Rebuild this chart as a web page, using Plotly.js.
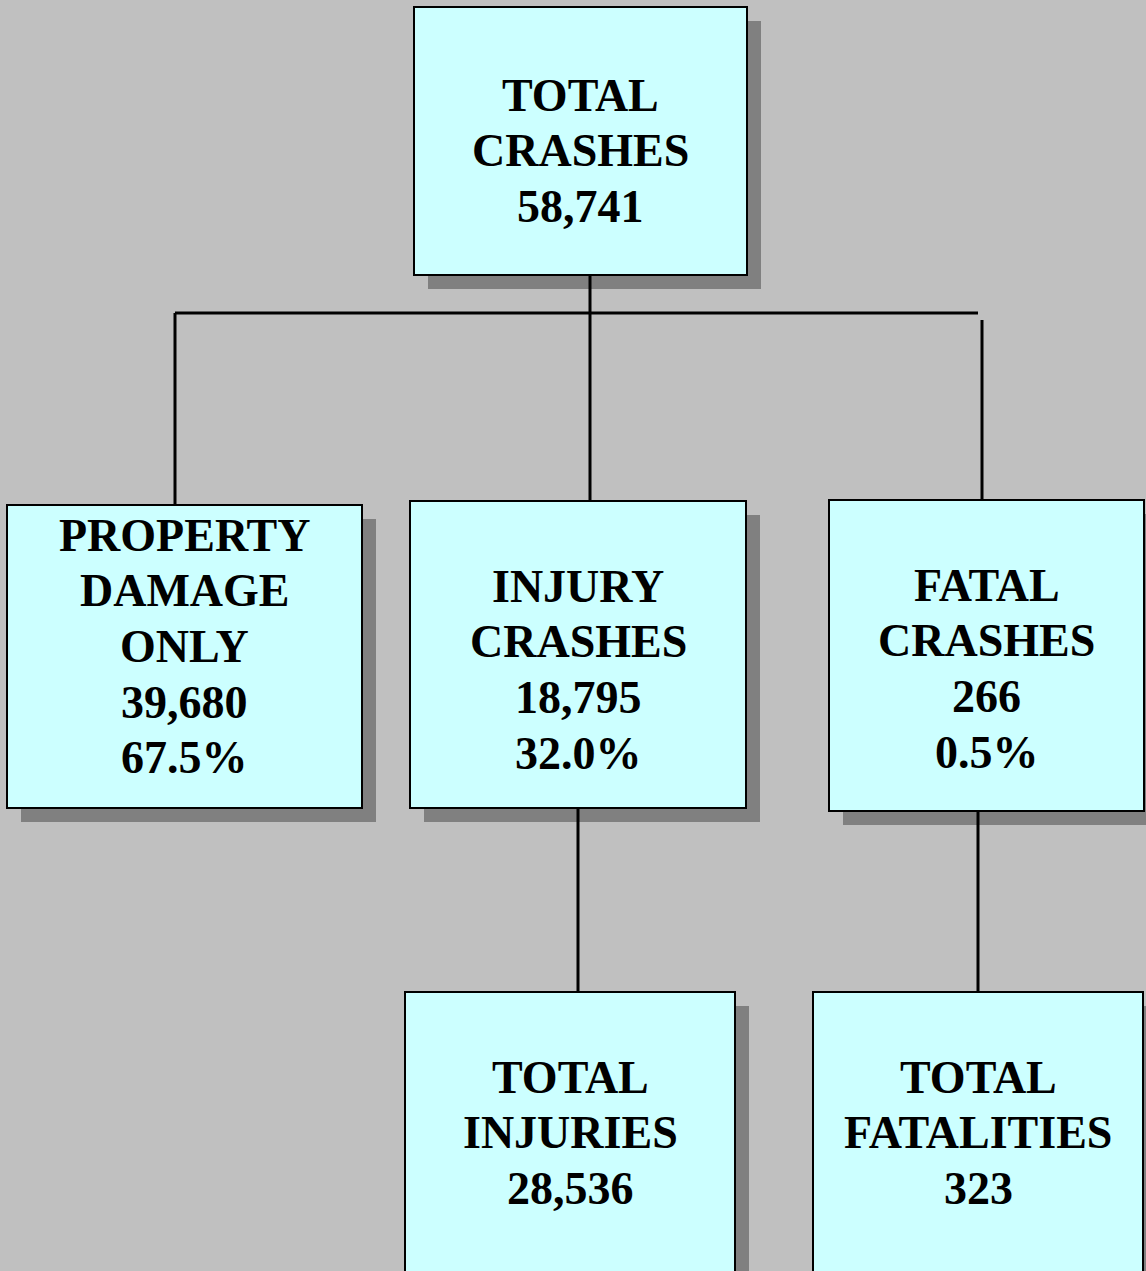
<!DOCTYPE html>
<html>
<head>
<meta charset="utf-8">
<script src="https://cdn.plot.ly/plotly-3.0.1.min.js"></script>
<style>html,body{margin:0;padding:0;background:#C0C0C0;}#chart{width:1146px;height:1271px;}</style>
</head>
<body>
<div id="chart"></div>
<script>
// ---- data ----
const titles = [
  ["TOTAL", "CRASHES"],
  ["PROPERTY", "DAMAGE", "ONLY"],
  ["INJURY", "CRASHES"],
  ["FATAL", "CRASHES"],
  ["TOTAL", "INJURIES"],
  ["TOTAL", "FATALITIES"]
];
const counts = [58741, 39680, 18795, 266, 28536, 323];
const shares = [null, 67.5, 32.0, 0.5, null, null];

// ---- layout geometry (pixels, y downward) ----
const boxes = [
  {x0: 414, x1: 747, y0: 7,   y1: 275,  first: 95},
  {x0: 7,   x1: 362, y0: 505, y1: 808,  first: 535},
  {x0: 410, x1: 746, y0: 501, y1: 808,  first: 586},
  {x0: 829, x1: 1144, y0: 500, y1: 811, first: 585},
  {x0: 405, x1: 735, y0: 992, y1: 1300, first: 1077},
  {x0: 813, x1: 1143, y0: 992, y1: 1300, first: 1077}
];
const connectors = [
  [590, 275, 590, 501],
  [175, 313, 978, 313],
  [175, 313, 175, 505],
  [982, 320, 982, 500],
  [578, 808, 578, 992],
  [978, 811, 978, 992]
];
const shadowOffset = 14;
const lineStep = 55.7;

const shapes = [];
boxes.forEach(b => shapes.push({type: 'rect', xref: 'x', yref: 'y',
  x0: b.x0 + shadowOffset, x1: b.x1 + shadowOffset, y0: b.y0 + shadowOffset, y1: b.y1 + shadowOffset,
  fillcolor: '#808080', line: {width: 0}}));
connectors.forEach(c => shapes.push({type: 'line', xref: 'x', yref: 'y',
  x0: c[0], y0: c[1], x1: c[2], y1: c[3], line: {color: '#000000', width: 3}}));
boxes.forEach(b => shapes.push({type: 'rect', xref: 'x', yref: 'y',
  x0: b.x0, x1: b.x1, y0: b.y0, y1: b.y1,
  fillcolor: '#CCFFFF', line: {color: '#000000', width: 2}}));

const annotations = [];
titles.forEach((t, i) => {
  const lines = t.slice();
  lines.push(counts[i].toLocaleString('en-US'));
  if (shares[i] !== null) lines.push(shares[i].toFixed(1) + '%');
  const b = boxes[i];
  const cx = (b.x0 + b.x1) / 2;
  lines.forEach((ln, k) => annotations.push({
    x: cx, y: b.first + k * lineStep, xref: 'x', yref: 'y',
    text: '<b>' + ln + '</b>', showarrow: false, xanchor: 'center', yanchor: 'middle',
    font: {family: 'Liberation Serif', size: 46, color: '#000000'}
  }));
});

const layout = {
  width: 1146, height: 1271,
  margin: {l: 0, r: 0, t: 0, b: 0},
  paper_bgcolor: '#C0C0C0', plot_bgcolor: '#C0C0C0',
  xaxis: {range: [0, 1146], visible: false, fixedrange: true},
  yaxis: {range: [1271, 0], visible: false, fixedrange: true},
  showlegend: false,
  shapes: shapes,
  annotations: annotations
};

Plotly.newPlot('chart', [{x: [], y: [], type: 'scatter', mode: 'markers', hoverinfo: 'skip'}], layout, {displayModeBar: false, staticPlot: true});
</script>
</body>
</html>
